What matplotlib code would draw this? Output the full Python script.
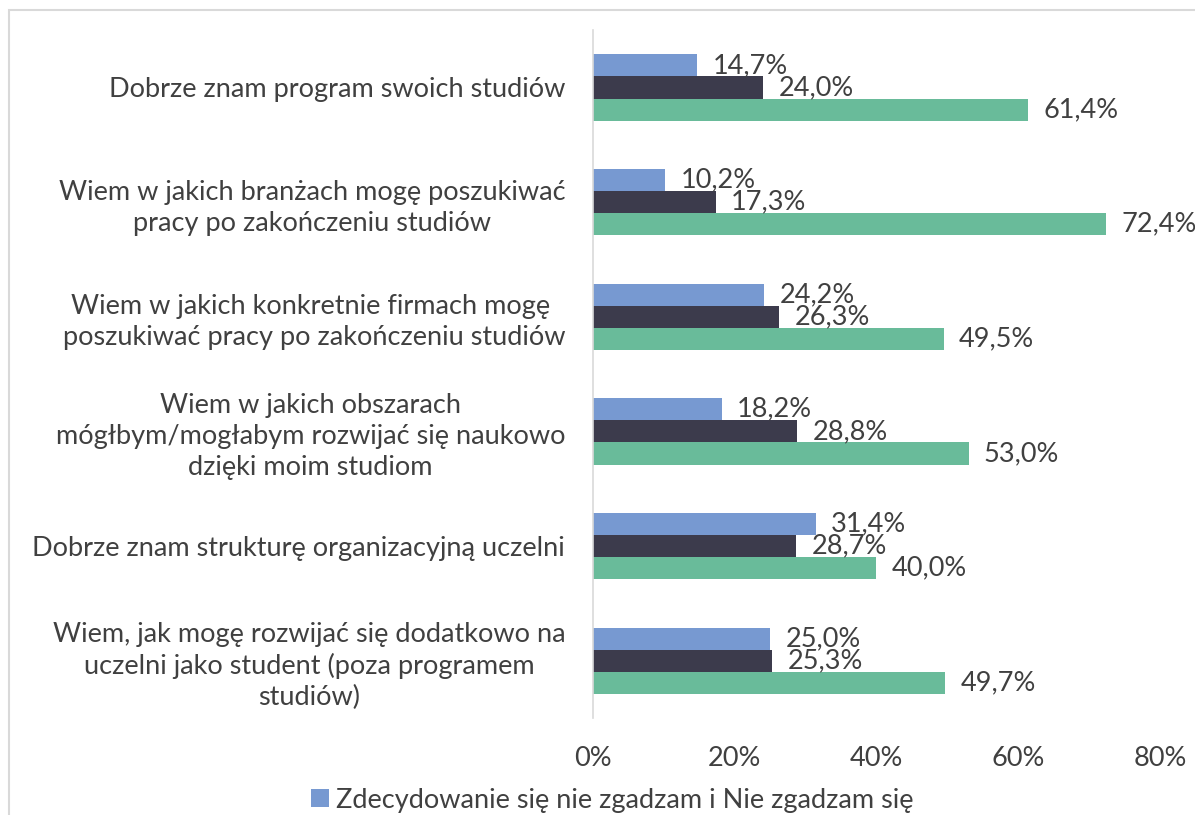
import matplotlib
matplotlib.use("Agg")
import matplotlib.pyplot as plt
from matplotlib.patches import Rectangle
import numpy as np

plt.rcParams['font.family'] = ['Lato', 'DejaVu Sans']

categories = [
    "Dobrze znam program swoich studiów",
    "Wiem w jakich branżach mogę poszukiwać\npracy po zakończeniu studiów",
    "Wiem w jakich konkretnie firmach mogę \nposzukiwać pracy po zakończeniu studiów",
    "Wiem w jakich obszarach\nmógłbym/mogłabym rozwijać się naukowo\ndzięki moim studiom",
    "Dobrze znam strukturę organizacyjną uczelni",
    "Wiem, jak mogę rozwijać się dodatkowo na\nuczelni jako student (poza programem\nstudiów)",
]
disagree = [14.7, 10.2, 24.2, 18.2, 31.4, 25.0]
neutral = [24.0, 17.3, 26.3, 28.8, 28.7, 25.3]
agree = [61.4, 72.4, 49.5, 53.0, 40.0, 49.7]
legend_label = "Zdecydowanie się nie zgadzam i Nie zgadzam się"

colors = ["#7799D1", "#3C3B4C", "#69BB9A"]
text_color = "#404040"
fs = 19.5

fig = plt.figure(figsize=(11.95, 8.15), dpi=100)
ax = fig.add_axes([0.4962, 0.119, 0.4745, 0.844])

y = np.arange(len(categories))
h = 0.193
series = [disagree, neutral, agree]
for k, (vals, c) in enumerate(zip(series, colors)):
    pos = y + (k - 1) * h
    bars = ax.barh(pos, vals, height=h, color=c,
                   label=legend_label if k == 0 else None)
    for b, v in zip(bars, vals):
        ax.annotate(f"{v:.1f}%".replace(".", ","),
                    (b.get_width(), b.get_y() + h / 2),
                    xytext=(11, 0), textcoords="offset points",
                    va="center", ha="left", fontsize=fs, color=text_color)

ax.set_ylim(len(categories) - 0.5, -0.5)
ax.set_xlim(0, 80)
ax.set_yticks(y)
ax.set_yticklabels(categories, multialignment="center", linespacing=1.3)
ax.set_xticks([0, 20, 40, 60, 80])
ax.set_xticklabels(["0%", "20%", "40%", "60%", "80%"])
ax.tick_params(axis="y", length=0, pad=20, labelsize=fs, labelcolor=text_color)
ax.tick_params(axis="x", length=0, pad=20, labelsize=fs, labelcolor=text_color)
for s in ["top", "right", "bottom"]:
    ax.spines[s].set_visible(False)
ax.spines["left"].set_color("#D9D9D9")
ax.spines["left"].set_linewidth(1.2)

fig.legend(loc="center left", bbox_to_anchor=(0.24, 0.018), frameon=False,
           fontsize=fs, labelcolor=text_color, handlelength=0.65,
           handleheight=0.65, handletextpad=0.25)

fig.patches.append(Rectangle((9 / 1195, -0.1), 1.2, 1 - 10 / 815 + 0.1,
                             transform=fig.transFigure, fill=False,
                             edgecolor="#D9D9D9", linewidth=1.5))

fig.savefig("out.png", dpi=100)
